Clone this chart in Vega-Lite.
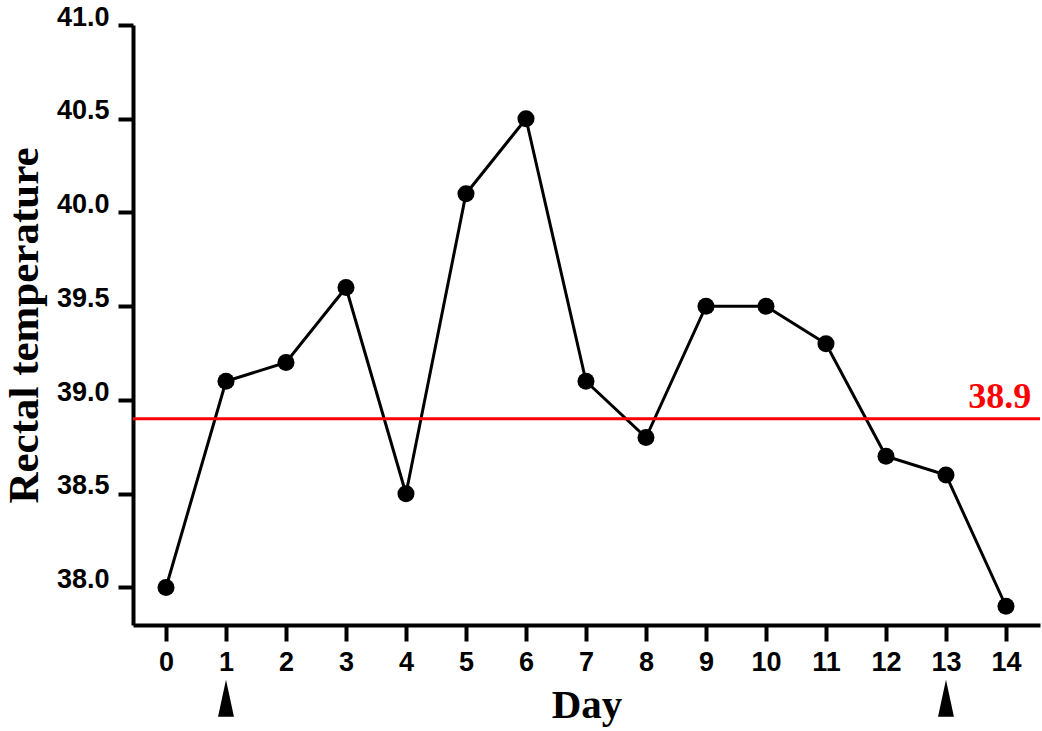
{
  "$schema": "https://vega.github.io/schema/vega-lite/v6.json",
  "width": 907,
  "height": 600,
  "autosize": "none",
  "padding": {"left": 133, "top": 25, "right": 2, "bottom": 106},
  "background": "white",
  "config": {
    "view": {"stroke": null},
    "axis": {
      "domainColor": "black",
      "domainWidth": 4,
      "tickColor": "black",
      "tickWidth": 4,
      "grid": false,
      "labelFont": "Liberation Sans",
      "labelFontWeight": "bold",
      "labelFontSize": 27,
      "labelColor": "black",
      "titleFont": "Liberation Serif",
      "titleFontWeight": "bold",
      "titleFontSize": 43,
      "titleColor": "black"
    }
  },
  "datasets": {
    "temp": [
      {"day": 0, "temperature": 38.0},
      {"day": 1, "temperature": 39.1},
      {"day": 2, "temperature": 39.2},
      {"day": 3, "temperature": 39.6},
      {"day": 4, "temperature": 38.5},
      {"day": 5, "temperature": 40.1},
      {"day": 6, "temperature": 40.5},
      {"day": 7, "temperature": 39.1},
      {"day": 8, "temperature": 38.8},
      {"day": 9, "temperature": 39.5},
      {"day": 10, "temperature": 39.5},
      {"day": 11, "temperature": 39.3},
      {"day": 12, "temperature": 38.7},
      {"day": 13, "temperature": 38.6},
      {"day": 14, "temperature": 37.9}
    ],
    "threshold": [{"value": 38.9, "label": "38.9"}],
    "arrows": [{"day": 1}, {"day": 13}]
  },
  "layer": [
    {
      "data": {"name": "temp"},
      "mark": {"type": "line", "color": "black", "strokeWidth": 3},
      "encoding": {
        "x": {
          "field": "day", "type": "quantitative",
          "scale": {"domain": [-0.55, 14.567], "nice": false, "zero": false},
          "axis": {"title": "Day", "values": [0,1,2,3,4,5,6,7,8,9,10,11,12,13,14], "format": "d", "tickSize": 16, "labelPadding": 8, "titlePadding": 10, "titleFontSize": 41, "labelFlush": false}
        },
        "y": {
          "field": "temperature", "type": "quantitative",
          "scale": {"domain": [37.8, 41.0], "nice": false, "zero": false},
          "axis": {"title": "Rectal temperature", "values": [38.0, 38.5, 39.0, 39.5, 40.0, 40.5, 41.0], "format": ".1f", "tickSize": 15, "labelPadding": 9, "labelBaseline": "alphabetic", "titlePadding": 10, "labelFlush": false}
        }
      }
    },
    {
      "data": {"name": "threshold"},
      "mark": {"type": "rule", "color": "#ff0000", "strokeWidth": 3},
      "encoding": {
        "y": {"field": "value", "type": "quantitative"}
      }
    },
    {
      "data": {"name": "temp"},
      "mark": {"type": "point", "filled": true, "color": "black", "size": 290, "opacity": 1, "shape": "circle"},
      "encoding": {
        "x": {"field": "day", "type": "quantitative"},
        "y": {"field": "temperature", "type": "quantitative"}
      }
    },
    {
      "data": {"name": "threshold"},
      "mark": {"type": "text", "color": "#ff0000", "font": "Liberation Serif", "fontWeight": "bold", "fontSize": 36, "align": "right", "baseline": "alphabetic", "dy": -11},
      "encoding": {
        "x": {"datum": 14.42, "type": "quantitative"},
        "y": {"field": "value", "type": "quantitative"},
        "text": {"field": "label"}
      }
    },
    {
      "data": {"name": "arrows"},
      "mark": {"type": "point", "filled": true, "color": "black", "opacity": 1, "size": 1369, "shape": "M0,-1L0.43,1L-0.43,1Z"},
      "encoding": {
        "x": {"field": "day", "type": "quantitative"},
        "y": {"datum": 37.41, "type": "quantitative"}
      }
    }
  ]
}
